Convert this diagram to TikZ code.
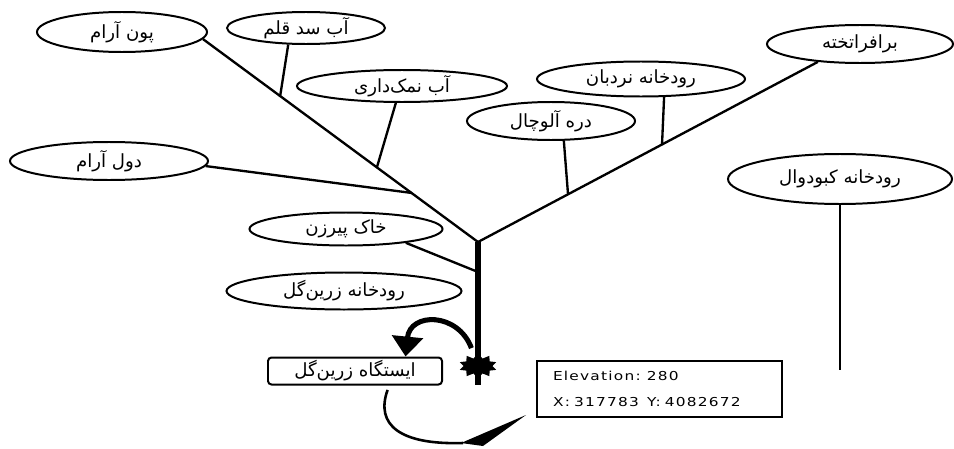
\documentclass[tikz,border=0pt]{standalone}
\usepackage{fontspec}
\usetikzlibrary{shapes.geometric,shapes.symbols,arrows.meta}
\TeXXeTstate=1
\newfontfamily\farsifont[Script=Arabic]{DejaVu Sans}
\newfontfamily\infofont[FakeStretch=1.25,LetterSpace=10]{DejaVu Sans}

\tikzset{
  place/.style={ellipse, draw, line width=1.7pt, inner sep=0pt,
    font=\farsifont\fontsize{15.5}{17}\selectfont},
  branch/.style={line width=2pt},
  trunk/.style={line width=4.3pt},
}

\begin{document}
\begin{tikzpicture}[x=0.03cm,y=-0.03cm]
\useasboundingbox (0,0) rectangle (954,448);

% Places on the left branch
\node[place, minimum width=5.1cm, minimum height=1.2cm] (poon) at (122,32) {\beginR پون آرام\endR};
\node[place, minimum width=4.74cm, minimum height=0.96cm] (qalam) at (306,28) {\beginR آب سد قلم\endR};
\node[place, minimum width=6.3cm, minimum height=0.96cm] (namak) at (402,86) {\beginR آب نمک‌داری\endR};
\node[place, minimum width=5.94cm, minimum height=1.14cm] (dool) at (109,161) {\beginR دول آرام\endR};

% Places on the right branch
\node[place, minimum width=5.58cm, minimum height=1.14cm] (barafrakhte) at (860,44) {\beginR برافراتخته\endR};
\node[place, minimum width=6.24cm, minimum height=1.05cm] (nardeban) at (641,79) {\beginR رودخانه نردبان\endR};
\node[place, minimum width=5.04cm, minimum height=1.14cm] (alouchal) at (551,121) {\beginR دره آلوچال\endR};
\node[place, minimum width=6.72cm, minimum height=1.5cm] (kaboudval) at (840,179) {\beginR رودخانه کبودوال\endR};

% Places near the trunk
\node[place, minimum width=5.79cm, minimum height=0.99cm] (pirezan) at (346,229) {\beginR خاک پیرزن\endR};
\node[place, minimum width=7.05cm, minimum height=1.11cm] (zaringol) at (344,291) {\beginR رودخانه زرین‌گل\endR};

% Station and its data
\node[draw, rounded corners=3pt, line width=1.7pt, inner sep=0pt,
  minimum width=5.22cm, minimum height=0.81cm,
  font=\farsifont\fontsize{15.5}{17}\selectfont] (station) at (355,371) {\beginR ایستگاه زرین‌گل\endR};
\node[draw, line width=1.7pt, align=left, text width=6.39cm, inner xsep=0.48cm,
  minimum height=1.68cm, font=\infofont\fontsize{10.5}{22}\selectfont] (info) at (659.5,389)
  {Elevation: 280\\X: 317783\ \ Y: 4082672};

% Branch points
\coordinate (j) at (478,242);
\coordinate (jqalam) at (280,97);
\coordinate (jnamak) at (377,167);
\coordinate (jdool) at (412,193);
\coordinate (jalou) at (568,194);
\coordinate (jnard) at (662,145);
\coordinate (jpir) at (478,272);
\coordinate (tend) at (478,385);
\coordinate (kend) at (840,370);
\coordinate (tip) at ([shift={(-10,-3)}]info.south west);

% Main branches and trunk
\draw[branch] (poon.-5) -- (j);
\draw[branch] (barafrakhte.203) -- (j);
\draw[trunk] (j) -- (tend);

% Side branches
\draw[branch] (qalam.223) -- (jqalam);
\draw[branch] (namak.250) -- (jnamak);
\draw[branch] (dool.-3) -- (jdool);
\draw[branch] (alouchal.-57) -- (jalou);
\draw[branch] (nardeban.-38) -- (jnard);
\draw[branch] (pirezan.-13) -- (jpir);
\draw[branch] (kaboudval.south) -- (kend);

% Station mark
\node[starburst, starburst points=10, starburst point height=0.14cm, random starburst=0,
  fill, inner sep=0pt, minimum width=1.15cm, minimum height=0.75cm] (mark) at (478,366) {};

% Arrow to the station
\draw[trunk, -{Triangle[width=26pt,length=17pt]}, shorten <=8pt]
  (mark.110) .. controls (458,312) and (410,312) .. (station.16);

% Tail to the data box
\draw[line width=2.2pt, shorten <=4pt] (station.-23) .. controls (375,425) and (400,445) .. (463,443);
\fill (461,443) -- (tip) -- (483,446) -- cycle;
\end{tikzpicture}
\end{document}
